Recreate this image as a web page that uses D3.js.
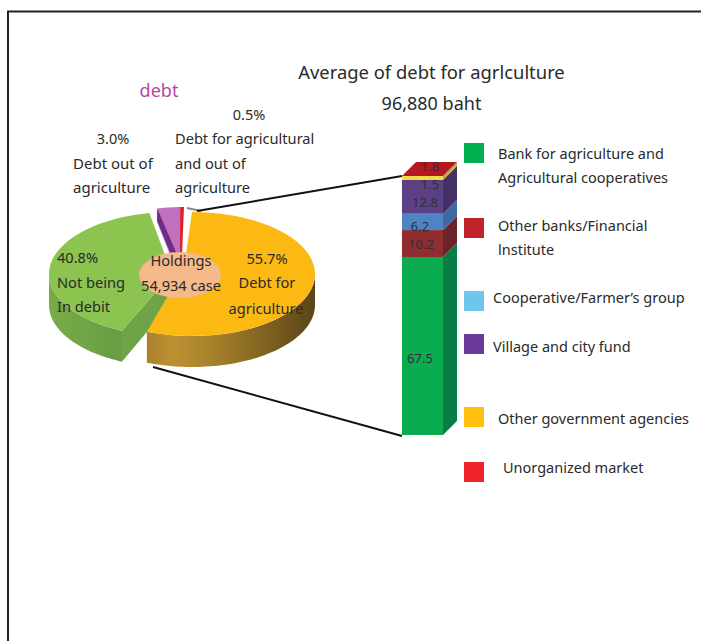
<!DOCTYPE html>
<html><head><meta charset="utf-8">
<script src="https://cdn.jsdelivr.net/npm/d3@7"></script>
<style>html,body{margin:0;padding:0;background:#fff}svg{display:block}text{font-family:"Noto Sans",sans-serif;fill:#2a2a2a}</style>
</head><body><svg id="c" width="701" height="641"></svg>
<script>
// ---- data ----
const pieNames = ["Debt for agriculture","Not being In debit","Debt out of agriculture","Debt for agricultural and out of agriculture"];
const pieValues = [55.7,40.8,3.0,0.5];
const stackNames = ["Bank for agriculture and Agricultural cooperatives","Other banks/Financial Institute","Cooperative/Farmer's group","Village and city fund","Other government agencies","Unorganized market"];
const stackValues = [67.5,10.2,6.2,12.8,1.5,1.8];
const stackLabels = ["67.5","10.2","6.2","12.8","1.5","1.8"];

// ---- style / layout ----
const rx=123, ry=62, depth=31;
const sliceGeom=[
 {cx:192,cy:274,inner:[[192,255],[183,275]],top:"#fdb913",side:"url(#gY)",trimA:0,trimB:1},
 {cx:172,cy:274,inner:[[172,274]],top:"#8cc44f",side:"url(#gG)",trimA:3.5,trimB:2},
 {cx:184,cy:269,inner:[[181,255],[170,255],[157,222]],top:"#c070bd"},
 {cx:184,cy:269,inner:[[182,255],[180,255]],top:"#e0202c"}
];
const stackFront=["#0bab50","#8f2d30","#4f84c4","#5b4183","#f4d84e"];
const stackSide =["#0a7c45","#6d2428","#3d6aa3","#433066","#c9a83a"];
const labelCenter=[[420,358],[421,244],[420,226],[425,202],[430,184],[430,166]];
const topColor="#b5181e";
const barX=402, barW=41, barDx=14, barDy=14, barBase=435, barTop=176;
const legendColors=["#00b050","#c0222a","#6ec6ee","#6b3a9c","#ffc010","#ee2229"];
const legendY=[143,218,291,334,407,462];
const legendText=[
 [[498,159,"Bank for agriculture and"],[498,183,"Agricultural cooperatives"]],
 [[498,231,"Other banks/Financial"],[498,255,"lnstitute"]],
 [[493,303,"Cooperative/Farmer’s group"]],
 [[493,352,"Village and city fund"]],
 [[498,424,"Other government agencies"]],
 [[503,473,"Unorganized market"]]
];

const svg=d3.select("#c");
const defs=svg.append("defs");
function grad(id,stops){const g=defs.append("linearGradient").attr("id",id);
 stops.forEach(s=>g.append("stop").attr("offset",s[0]).attr("stop-color",s[1]));}
grad("gY",[[0,"#a9802a"],[0.15,"#bd9234"],[0.45,"#a07c28"],[1,"#5a4518"]]);
grad("gG",[[0,"#79ab47"],[0.6,"#6fa345"],[1,"#6a9c44"]]);

// frame
svg.append("path").attr("d","M8 641V11.5H701").attr("fill","none").attr("stroke","#222").attr("stroke-width",2);

// pie
const arcs=d3.pie().sort(null).value(d=>d)(pieValues);
const deg=Math.PI/180;
const line=d3.line();
function arcPts(g,a,b,dy=0){
 return d3.range(0,41).map(i=>{const t=a+(b-a)*i/40;return [g.cx+rx*Math.sin(t),g.cy-ry*Math.cos(t)+dy];});
}
function shape(g,a,b){return line(arcPts(g,a,b).concat(g.inner))+"Z";}
function sideBand(g,a,b){
 const top=arcPts(g,a,b), bot=arcPts(g,a,b,depth).reverse();
 return line(top.concat(bot))+"Z";
}
const ga=arcs.map((d,i)=>({a:d.startAngle+(sliceGeom[i].trimA||0)*deg,b:d.endAngle+(sliceGeom[i].trimB||0)*deg}));
// green
{const g=sliceGeom[1],{a,b}=ga[1];
 svg.append("path").attr("d",sideBand(g,a,270*deg)).attr("fill",g.side);
 const tip=arcPts(g,a,a)[0];
 svg.append("path").attr("d",line([tip,[tip[0],tip[1]+depth],[g.cx,g.cy+depth-3],[g.cx,g.cy]])+"Z").attr("fill","#6fa347");
 svg.append("path").attr("d",shape(g,a,b)).attr("fill",g.top);
}
// yellow
{const g=sliceGeom[0],{a,b}=ga[0];
 svg.append("path").attr("d",sideBand(g,90*deg,b)).attr("fill",g.side);
 svg.append("path").attr("d",shape(g,a,b)).attr("fill",g.top);
}
// purple + sliver
{const g=sliceGeom[2],{a,b}=ga[2];
 svg.append("path").attr("d",shape(g,a,b)).attr("fill",g.top);
 const p=arcPts(g,a,a)[0];
 svg.append("path").attr("d",line([p,[p[0]+19,p[1]+44],[p[0]+13,p[1]+44],[p[0],p[1]+12]])+"Z").attr("fill","#6b2c8a");
 const r=sliceGeom[3],q=ga[3];
 svg.append("path").attr("d",shape(r,q.a,q.b)).attr("fill",r.top);
}
// hole
svg.append("ellipse").attr("cx",180).attr("cy",275).attr("rx",41).attr("ry",23).attr("fill","#f5b98a");

// leader lines
svg.append("path").attr("d","M187 208L201 211").attr("stroke","#8a8a8a").attr("stroke-width",2).attr("fill","none");
svg.append("path").attr("d",`M197 211L${barX} ${barTop}`).attr("stroke","#111").attr("stroke-width",2);
svg.append("path").attr("d",`M153 367L${barX} ${barBase+1}`).attr("stroke","#111").attr("stroke-width",2);

// stacked 3D bar
const front=stackValues.slice(0,5);
const y=d3.scaleLinear().domain([0,d3.sum(front)]).range([barBase,barTop]);
let cum=0;
const stackRows=stackValues.map((v,i)=>{const r={v,i,y0:cum,y1:cum+v};cum+=v;return r;});
const bars=svg.append("g");
stackRows.slice(0,5).forEach(r=>{
 bars.append("path").attr("d",line([[barX+barW,y(r.y0)],[barX+barW+barDx,y(r.y0)-barDy],[barX+barW+barDx,y(r.y1)-barDy],[barX+barW,y(r.y1)]])+"Z").attr("fill",stackSide[r.i]);
 bars.append("rect").attr("x",barX).attr("y",y(r.y1)).attr("width",barW).attr("height",y(r.y0)-y(r.y1)).attr("fill",stackFront[r.i]);
});
bars.append("path").attr("d",line([[barX,barTop],[barX+barW,barTop],[barX+barW+barDx,barTop-barDy],[barX+barDx,barTop-barDy]])+"Z").attr("fill",topColor);
stackRows.forEach(r=>{
 bars.append("text").attr("x",labelCenter[r.i][0]).attr("y",labelCenter[r.i][1]+5).attr("text-anchor","middle").attr("font-size",13).style("fill","#2f2f3a").text(stackLabels[r.i]);
});

// legend
const leg=svg.append("g");
legendColors.forEach((c,i)=>{
 leg.append("rect").attr("x",464).attr("y",legendY[i]).attr("width",20).attr("height",20).attr("fill",c);
 legendText[i].forEach(t=>leg.append("text").attr("x",t[0]).attr("y",t[1]).attr("font-size",14.5).text(t[2]));
});

// text
function T(x,y,s,size,anchor,color){const e=svg.append("text").attr("x",x).attr("y",y).attr("font-size",size).attr("text-anchor",anchor||"start").text(s);if(color)e.style("fill",color);return e;}
T(431.5,79,"Average of debt for agrlculture",18.4,"middle");
T(431.5,110,"96,880 baht",18,"middle");
T(159,97,"debt",18,"middle","#b5479f");
T(249,120,"0.5%",14.5,"middle");
T(113,144,"3.0%",14.5,"middle");
T(73,169,"Debt out of",15);
T(73,193,"agriculture",15);
T(175,144,"Debt for agricultural",14.6);
T(175,169,"and out of",14.6);
T(175,193,"agriculture",14.6);
T(57,263,"40.8%",14.6);
T(57,288,"Not being",14.6);
T(57,312,"In debit",14.6);
T(181,266,"Holdings",14.6,"middle");
T(181,291,"54,934 case",14.6,"middle");
T(267,264,"55.7%",14.6,"middle");
T(267,288,"Debt for",14.6,"middle");
T(266,314,"agriculture",14.6,"middle");
</script></body></html>
